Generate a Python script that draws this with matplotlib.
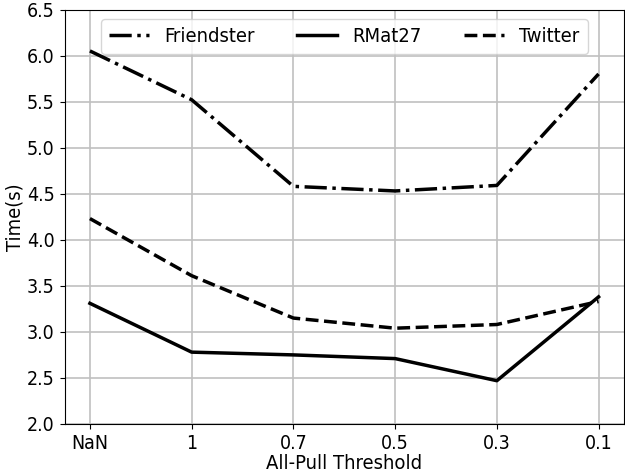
import matplotlib
matplotlib.use('Agg')
import matplotlib.pyplot as plt

plt.rcParams['font.family'] = 'DejaVu Sans'
plt.rcParams['font.stretch'] = 'condensed'

# Data
thresholds = ['NaN', '1', '0.7', '0.5', '0.3', '0.1']
friendster = [6.05, 5.52, 4.58, 4.53, 4.59, 5.80]
rmat27 = [3.31, 2.78, 2.75, 2.71, 2.47, 3.38]
twitter = [4.23, 3.61, 3.15, 3.04, 3.08, 3.33]

fig = plt.figure(figsize=(6.25, 4.75), dpi=100)
ax = fig.add_axes([0.1032, 0.1074, 0.8952, 0.8726])

x = range(len(thresholds))
ax.plot(x, friendster, color='black', linestyle='-.', linewidth=2.5, label='Friendster')
ax.plot(x, rmat27, color='black', linestyle='-', linewidth=2.5, label='RMat27')
ax.plot(x, twitter, color='black', linestyle='--', linewidth=2.5, label='Twitter')

ax.set_xticks(list(x))
ax.set_xticklabels(thresholds)
ax.set_ylim(2.0, 6.5)
ax.set_yticks([2.0, 2.5, 3.0, 3.5, 4.0, 4.5, 5.0, 5.5, 6.0, 6.5])
ax.tick_params(labelsize=14)
ax.grid(True, color='#c0c0c0', linewidth=1.2)
ax.set_xlabel('All-Pull Threshold', fontsize=14.5, labelpad=1)
ax.set_ylabel('Time(s)', fontsize=14.5, labelpad=2)
ax.legend(loc='upper center', ncol=3, fontsize=14.5, columnspacing=2.1,
          handlelength=2.0, handletextpad=0.75, borderaxespad=0.45)

fig.savefig('out.png', dpi=100)
